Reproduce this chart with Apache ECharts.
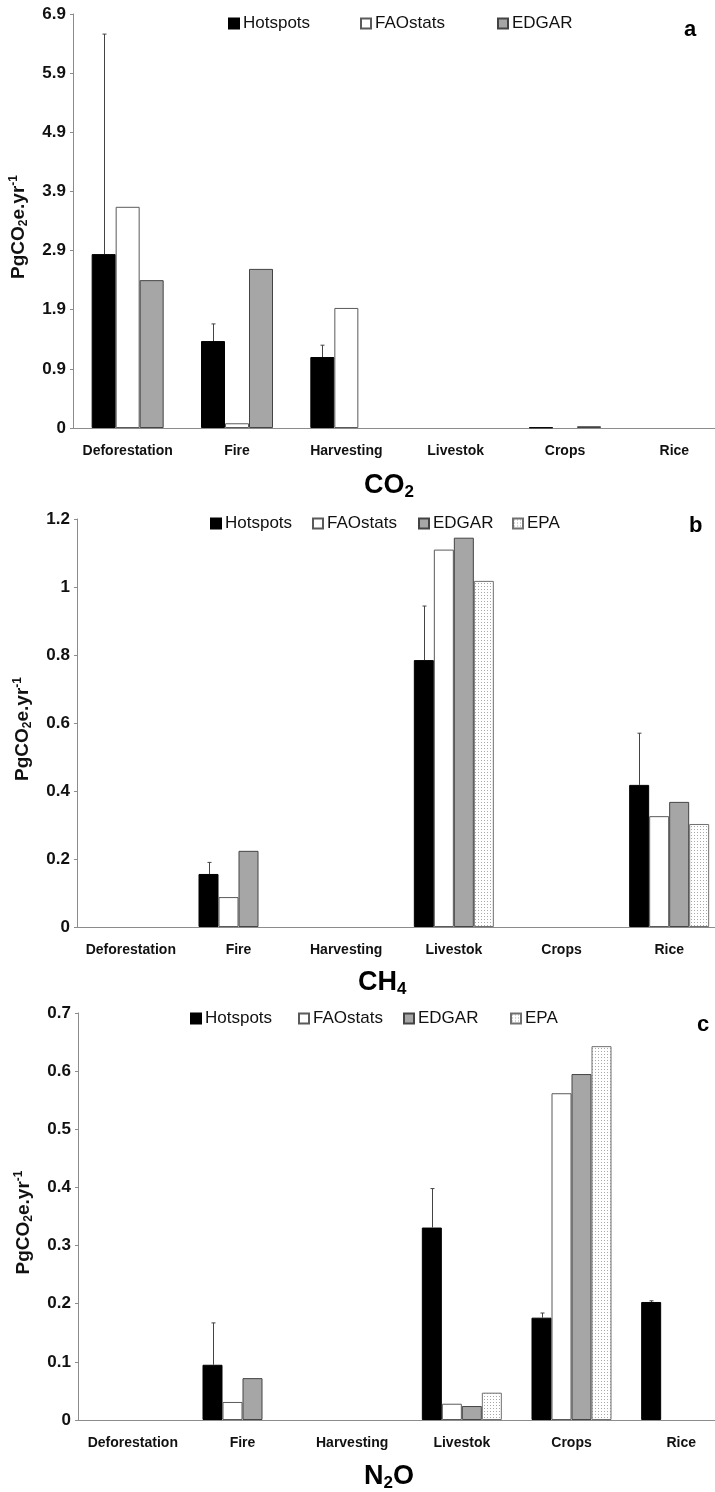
<!DOCTYPE html>
<html>
<head>
<meta charset="utf-8">
<script src="https://cdn.jsdelivr.net/npm/echarts@6/dist/echarts.min.js"></script>
<style>
  html, body { margin: 0; padding: 0; background: #fff; overflow: hidden; }
  /* plot runs past the right edge in the original figure, so the canvas is wider than the window */
  #chart { width: 745px; height: 1492px; }
</style>
</head>
<body>
<div id="chart"></div>
<script>
// categories and series values (PgCO2e.yr-1)
const categories = ['Deforestation', 'Fire', 'Harvesting', 'Livestok', 'Crops', 'Rice'];

// panel a - CO2 (axis a is drawn with 0 at the base, ticks labelled 0.9, 1.9 ...)
const co2Hotspots = [2.94, 1.47, 1.20, '-', 0.01, '-'];
const co2HotspotsErr = [6.66, 1.76, 1.40, null, null, null];
const co2Fao = [3.74, 0.08, 2.03, '-', '-', '-'];
const co2Edgar = [2.50, 2.69, '-', '-', 0.03, '-'];
const co2Ticks = ['0', '0.9', '1.9', '2.9', '3.9', '4.9', '5.9', '6.9'];

// panel b - CH4
const ch4Hotspots = ['-', 0.156, '-', 0.785, '-', 0.418];
const ch4HotspotsErr = [null, 0.19, null, 0.944, null, 0.57];
const ch4Fao = ['-', 0.088, '-', 1.11, '-', 0.326];
const ch4Edgar = ['-', 0.224, '-', 1.145, '-', 0.368];
const ch4Epa = ['-', '-', '-', 1.018, '-', 0.303];

// panel c - N2O
const n2oHotspots = ['-', 0.095, '-', 0.331, 0.176, 0.203];
const n2oHotspotsErr = [null, 0.167, null, 0.398, 0.184, 0.205];
const n2oFao = ['-', 0.031, '-', 0.028, 0.562, '-'];
const n2oEdgar = ['-', 0.072, '-', 0.024, 0.595, '-'];
const n2oEpa = ['-', '-', '-', 0.047, 0.643, '-'];

// dotted fill for the EPA bars
function dotPattern() {
  const c = document.createElement('canvas');
  c.width = 3; c.height = 3;
  const ctx = c.getContext('2d');
  ctx.fillStyle = '#ffffff';
  ctx.fillRect(0, 0, 3, 3);
  ctx.fillStyle = '#a8a8a8';
  ctx.fillRect(1, 1, 1, 1);
  return c;
}
const epaFill = { image: dotPattern(), repeat: 'repeat' };

const styles = {
  Hotspots: { color: '#000000', borderColor: '#000000', borderWidth: 1 },
  FAOstats: { color: '#ffffff', borderColor: '#5a5a5a', borderWidth: 1 },
  EDGAR: { color: '#a6a6a6', borderColor: '#444444', borderWidth: 1 },
  EPA: { color: epaFill, borderColor: '#707070', borderWidth: 1 }
};

const font = 'Liberation Sans, Arial, sans-serif';

function errData(base, err) {
  const out = [];
  err.forEach(function (e, i) {
    if (e != null) out.push([i, base[i], e]);
  });
  return out;
}

function errSeries(idx, data, offset) {
  return {
    type: 'custom',
    xAxisIndex: idx, yAxisIndex: idx,
    silent: true,
    z: 5,
    data: data,
    renderItem: function (params, api) {
      const p1 = api.coord([api.value(0), api.value(1)]);
      const p2 = api.coord([api.value(0), api.value(2)]);
      const x = Math.round(p1[0] + offset) + 0.5;
      const s = { stroke: '#444', lineWidth: 1 };
      return {
        type: 'group',
        children: [
          { type: 'line', shape: { x1: x, y1: p1[1], x2: x, y2: p2[1] }, style: s },
          { type: 'line', shape: { x1: x - 2, y1: p2[1], x2: x + 2, y2: p2[1] }, style: s }
        ]
      };
    }
  };
}

function barSeries(idx, name, data, width) {
  return {
    type: 'bar', name: name, data: data,
    xAxisIndex: idx, yAxisIndex: idx,
    barWidth: width, barGap: '0%',
    itemStyle: styles[name]
  };
}

const grids = [
  { left: 72, top: 14, width: 657, height: 414 },
  { left: 77, top: 519, width: 646, height: 408 },
  { left: 78, top: 1013, width: 658, height: 407 }
];

function xAxis(idx) {
  return {
    type: 'category', gridIndex: idx, data: categories,
    axisLine: { lineStyle: { color: '#8c8c8c' } },
    axisTick: { length: 5, lineStyle: { color: '#8c8c8c' } },
    axisLabel: { interval: 0, margin: 16, fontFamily: font, fontWeight: 'bold', fontSize: 14, color: '#111' }
  };
}

function yAxis(idx, min, max, interval, fmt) {
  return {
    type: 'value', gridIndex: idx, min: min, max: max, interval: interval,
    splitLine: { show: false },
    axisLine: { show: true, lineStyle: { color: '#8c8c8c' } },
    axisTick: { show: true, length: 3, lineStyle: { color: '#8c8c8c' } },
    axisLabel: { margin: 7, fontFamily: font, fontWeight: 'bold', fontSize: 17, color: '#111', formatter: fmt },
    name: '{b|PgCO}{s|2}{b|e.yr}{p|-1}',
    nameLocation: 'middle', nameRotate: 90, nameGap: 43,
    nameTextStyle: {
      padding: [0, 12, 0, 0],
      rich: {
        b: { fontFamily: font, fontWeight: 'bold', fontSize: 19, color: '#111', lineHeight: 22 },
        s: { fontFamily: font, fontWeight: 'bold', fontSize: 12, color: '#111', lineHeight: 8, verticalAlign: 'bottom' },
        p: { fontFamily: font, fontWeight: 'bold', fontSize: 12, color: '#111', lineHeight: 8, verticalAlign: 'top' }
      }
    }
  };
}

function legendItem(name, left, top) {
  return {
    data: [name], left: left, top: top, padding: 0,
    icon: 'rect', itemWidth: 10, itemHeight: 10,
    selectedMode: false,
    textStyle: { fontFamily: font, fontSize: 17, color: '#111', padding: [0, 0, 0, -1] }
  };
}

function title(text, x, y) {
  return {
    type: 'text', left: x, top: y,
    style: {
      text: text,
      rich: {
        b: { fontFamily: font, fontWeight: 'bold', fontSize: 27, color: '#000', lineHeight: 30 },
        s: { fontFamily: font, fontWeight: 'bold', fontSize: 17, color: '#000', lineHeight: 10, verticalAlign: 'bottom' }
      }
    }
  };
}

function letter(text, x, y) {
  return {
    type: 'text', left: x, top: y,
    style: { text: text, fontFamily: font, fontWeight: 'bold', fontSize: 22, fill: '#000' }
  };
}

const chart = echarts.init(document.getElementById('chart'), null, { renderer: 'canvas' });

chart.setOption({
  animation: false,
  backgroundColor: '#ffffff',
  grid: grids,
  xAxis: [xAxis(0), xAxis(1), xAxis(2)],
  yAxis: [
    yAxis(0, 0, 7, 1, function (v, i) { return co2Ticks[i]; }),
    yAxis(1, 0, 1.2, 0.2),
    yAxis(2, 0, 0.7, 0.1)
  ],
  legend: [
    legendItem('Hotspots', 228, 15), legendItem('FAOstats', 360, 15), legendItem('EDGAR', 497, 15),
    legendItem('Hotspots', 210, 515), legendItem('FAOstats', 312, 515), legendItem('EDGAR', 418, 515), legendItem('EPA', 512, 515),
    legendItem('Hotspots', 190, 1010), legendItem('FAOstats', 298, 1010), legendItem('EDGAR', 403, 1010), legendItem('EPA', 510, 1010)
  ],
  graphic: [
    title('{b|CO}{s|2}', 364, 472),
    title('{b|CH}{s|4}', 358, 969),
    title('{b|N}{s|2}{b|O}', 364, 1463),
    letter('a', 684, 19),
    letter('b', 689, 515),
    letter('c', 697, 1014)
  ],
  series: [
    barSeries(0, 'Hotspots', co2Hotspots, 24),
    barSeries(0, 'FAOstats', co2Fao, 24),
    barSeries(0, 'EDGAR', co2Edgar, 24),
    errSeries(0, errData(co2Hotspots, co2HotspotsErr), -24),

    barSeries(1, 'Hotspots', ch4Hotspots, 20),
    barSeries(1, 'FAOstats', ch4Fao, 20),
    barSeries(1, 'EDGAR', ch4Edgar, 20),
    barSeries(1, 'EPA', ch4Epa, 20),
    errSeries(1, errData(ch4Hotspots, ch4HotspotsErr), -30),

    barSeries(2, 'Hotspots', n2oHotspots, 20),
    barSeries(2, 'FAOstats', n2oFao, 20),
    barSeries(2, 'EDGAR', n2oEdgar, 20),
    barSeries(2, 'EPA', n2oEpa, 20),
    errSeries(2, errData(n2oHotspots, n2oHotspotsErr), -30)
  ]
});
</script>
</body>
</html>
